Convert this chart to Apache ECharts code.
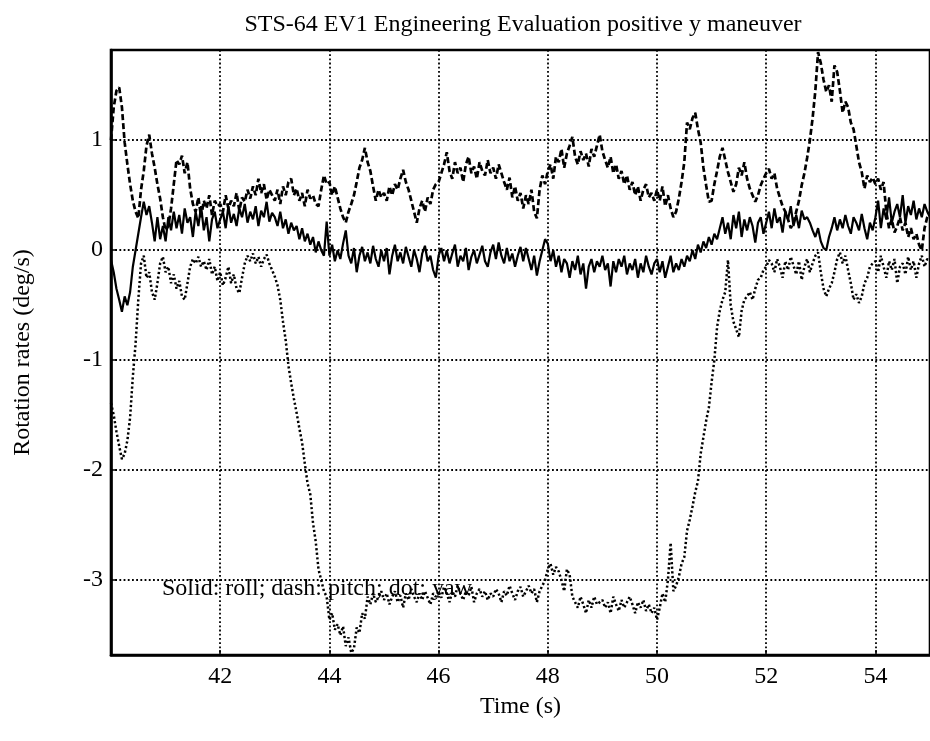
<!DOCTYPE html>
<html>
<head>
<meta charset="utf-8">
<title>STS-64 EV1 rotation rates</title>
<script src="https://cdn.jsdelivr.net/npm/echarts@6/dist/echarts.min.js"></script>
<style>
  html, body { margin: 0; padding: 0; background: #fff; }
  #chart { width: 930px; height: 741px; }
</style>
</head>
<body>
<div id="chart"></div>
<script>
// Sampling of the three body rates (s)
const startTime = 40;
const sampleStep = 0.05;

// Roll rate, deg/s (solid)
const roll = [
  -0.09, -0.2, -0.35, -0.45, -0.56, -0.42, -0.5, -0.38, -0.15, 0.0, 0.15, 0.3, 0.44, 0.32, 0.4, 0.25, 0.08, 0.3, 0.1, 0.22,
  0.08, 0.3, 0.18, 0.35, 0.2, 0.32, 0.15, 0.38, 0.25, 0.3, 0.12, 0.35, 0.22, 0.4, 0.18, 0.3, 0.08, 0.28, 0.35, 0.2,
  0.28, 0.35, 0.2, 0.4, 0.25, 0.33, 0.22, 0.38, 0.3, 0.42, 0.25, 0.35, 0.28, 0.4, 0.22, 0.36, 0.3, 0.44, 0.26, 0.34,
  0.3, 0.22, 0.35, 0.2, 0.28, 0.15, 0.25, 0.18, 0.22, 0.1, 0.2, 0.08, 0.15, 0.05, 0.12, -0.02, 0.08, 0.0, -0.05, 0.26,
  -0.05, 0.05, -0.1, 0.0, -0.08, 0.06, 0.18, -0.05, -0.12, 0.02, -0.2, -0.05, 0.03, -0.1, -0.02, -0.12, 0.04, -0.08, -0.15, 0.0,
  -0.1, 0.02, -0.22, -0.05, 0.05, -0.1, -0.02, -0.12, 0.03, -0.06, -0.15, 0.0, -0.08, -0.2, -0.03, 0.04, -0.1, -0.05, -0.18, -0.25,
  -0.05, 0.02, -0.1, 0.0, -0.12, -0.03, 0.05, -0.15, -0.05, -0.1, 0.02, -0.18, -0.06, 0.0, -0.12, -0.04, 0.04, -0.1, -0.15, -0.02,
  0.05, -0.08, 0.07, -0.05, -0.12, 0.02, -0.1, -0.03, -0.15, -0.05, 0.03, -0.1, 0.02, -0.08, -0.18, -0.05, -0.23, -0.1, 0.0, 0.1,
  0.06, -0.1, 0.0, -0.15, -0.05, -0.2, -0.08, -0.12, -0.25, -0.1, -0.18, -0.05, -0.22, -0.12, -0.35, -0.15, -0.08, -0.2, -0.1, -0.15,
  -0.05, -0.18, -0.12, -0.33, -0.1, -0.2, -0.08, -0.15, -0.05, -0.22, -0.12, -0.18, -0.08, -0.25, -0.12, -0.2, -0.05, -0.15, -0.22, -0.12,
  -0.08, -0.2, -0.1, -0.25, -0.15, -0.05, -0.2, -0.12, -0.18, -0.08, -0.15, -0.05, -0.1, 0.0, -0.08, 0.05, -0.02, 0.08, 0.02, 0.12,
  0.05, 0.15, 0.1, 0.2, 0.3, 0.15, 0.25, 0.1, 0.32, 0.2, 0.35, 0.12, 0.28, 0.18, 0.3, 0.22, 0.07, 0.25, 0.3, 0.15,
  0.25, 0.35, 0.2, 0.38, 0.25, 0.3, 0.16, 0.35, 0.28, 0.4, 0.22, 0.32, 0.2, 0.36, 0.28, 0.3, 0.25, 0.18, 0.12, 0.2,
  0.08, 0.02, 0.0, 0.12, 0.2, 0.3, 0.18, 0.28, 0.2, 0.32, 0.22, 0.15, 0.3, 0.25, 0.18, 0.33, 0.2, 0.1, 0.25, 0.18,
  0.3, 0.45, 0.2, 0.38, 0.28, 0.48, 0.25, 0.35, 0.42, 0.3, 0.5, 0.25, 0.4, 0.32, 0.45, 0.28, 0.38, 0.3, 0.42, 0.35,
  0.3
];

// Pitch rate, deg/s (dashed)
const pitch = [
  1.0, 1.3, 1.45, 1.48, 1.3, 0.98, 0.78, 0.6, 0.45, 0.35, 0.29, 0.55, 0.72, 0.95, 1.05, 0.88, 0.75, 0.6, 0.47, 0.3,
  0.18, 0.22, 0.38, 0.6, 0.82, 0.78, 0.86, 0.7, 0.8, 0.56, 0.42, 0.35, 0.48, 0.3, 0.45, 0.38, 0.5, 0.32, 0.45, 0.4,
  0.42, 0.35, 0.5, 0.38, 0.45, 0.4, 0.52, 0.36, 0.48, 0.44, 0.55, 0.47, 0.58, 0.5, 0.65, 0.52, 0.6, 0.46, 0.55, 0.5,
  0.45, 0.55, 0.42, 0.58, 0.5, 0.62, 0.65, 0.5, 0.56, 0.45, 0.52, 0.4, 0.55, 0.47, 0.5, 0.42, 0.4, 0.55, 0.68, 0.6,
  0.62, 0.5, 0.58, 0.48, 0.38, 0.3, 0.25, 0.35, 0.42, 0.5, 0.62, 0.75, 0.82, 0.93, 0.8, 0.72, 0.58, 0.45, 0.55, 0.48,
  0.52, 0.45, 0.58, 0.5, 0.6, 0.55, 0.65, 0.73, 0.62, 0.55, 0.45, 0.35, 0.25, 0.38, 0.45, 0.35, 0.48, 0.42, 0.55, 0.6,
  0.62, 0.7, 0.78, 0.89, 0.72, 0.65, 0.8, 0.7, 0.75, 0.62, 0.78, 0.85, 0.7, 0.76, 0.65, 0.8, 0.72, 0.68, 0.82, 0.7,
  0.75, 0.65, 0.78, 0.7, 0.62, 0.55, 0.66, 0.48, 0.58, 0.45, 0.52, 0.38, 0.5, 0.42, 0.55, 0.35, 0.29, 0.55, 0.68, 0.6,
  0.72, 0.78, 0.65, 0.85, 0.8, 0.92, 0.75, 0.88, 0.95, 1.03, 0.85, 0.78, 0.9, 0.82, 0.88, 0.76, 0.92, 0.85, 0.95, 1.05,
  0.9, 0.82, 0.75, 0.85, 0.7, 0.78, 0.65, 0.72, 0.6, 0.68, 0.55, 0.62, 0.5, 0.58, 0.45, 0.55, 0.6, 0.48, 0.52, 0.45,
  0.55, 0.45, 0.58, 0.4, 0.5, 0.38, 0.3, 0.35, 0.47, 0.62, 0.8, 1.16, 1.1, 1.2, 1.25, 1.1, 0.98, 0.75, 0.59, 0.44,
  0.45, 0.6, 0.72, 0.85, 0.93, 0.82, 0.71, 0.62, 0.53, 0.6, 0.75, 0.68, 0.8, 0.65, 0.56, 0.5, 0.44, 0.5, 0.59, 0.65,
  0.7, 0.74, 0.65, 0.7, 0.56, 0.48, 0.4, 0.35, 0.28, 0.2, 0.25, 0.35, 0.45, 0.59, 0.7, 0.84, 1.0, 1.2, 1.45, 1.8,
  1.7, 1.55, 1.44, 1.5, 1.35, 1.68, 1.62, 1.45, 1.25, 1.35, 1.3, 1.16, 1.1, 0.95, 0.8, 0.71, 0.56, 0.68, 0.62, 0.66,
  0.6, 0.65, 0.55, 0.62, 0.35, 0.2, 0.28, 0.16, 0.22, 0.3, 0.18, 0.25, 0.12, 0.2, 0.1, 0.15, 0.05, 0.0, 0.2, 0.3,
  0.35
];

// Yaw rate, deg/s (dotted)
const yaw = [
  -1.39, -1.5, -1.65, -1.78, -1.9, -1.85, -1.73, -1.52, -1.15, -0.85, -0.45, -0.12, -0.05, -0.25, -0.2, -0.38, -0.45, -0.3, -0.12, -0.06,
  -0.2, -0.15, -0.3, -0.22, -0.35, -0.28, -0.42, -0.45, -0.3, -0.15, -0.08, -0.12, -0.06, -0.15, -0.1, -0.18, -0.08, -0.22, -0.15, -0.28,
  -0.2, -0.32, -0.25, -0.15, -0.3, -0.22, -0.35, -0.39, -0.25, -0.12, -0.05, -0.1, -0.03, -0.12, -0.06, -0.15, -0.08, -0.04, -0.12, -0.18,
  -0.24, -0.32, -0.45, -0.65, -0.82, -1.05, -1.21, -1.35, -1.48, -1.62, -1.75, -1.94, -2.12, -2.22, -2.48, -2.65, -2.9, -3.0, -3.1, -3.15,
  -3.36, -3.3, -3.45, -3.4, -3.5, -3.42, -3.6, -3.52, -3.66, -3.62, -3.43, -3.48, -3.3, -3.35, -3.15, -3.22, -3.12, -3.2, -3.15, -3.1,
  -3.18, -3.12, -3.22, -3.15, -3.1, -3.2, -3.14, -3.25, -3.12, -3.18, -3.08, -3.15, -3.2, -3.12, -3.18, -3.1, -3.16, -3.22, -3.12, -3.15,
  -3.1, -3.16, -3.06, -3.12, -3.2, -3.1, -3.15, -3.05, -3.12, -3.18, -3.1, -3.14, -3.06, -3.2, -3.12, -3.08, -3.15, -3.1, -3.18, -3.12,
  -3.15, -3.08, -3.12, -3.2, -3.1, -3.14, -3.05, -3.12, -3.18, -3.1, -3.06, -3.15, -3.1, -3.05, -3.12, -3.08, -3.2, -3.1, -3.05, -3.0,
  -2.9, -2.85, -2.95, -2.88, -2.92, -3.0, -3.1, -2.9, -2.95, -3.15, -3.2, -3.25, -3.15, -3.22, -3.3, -3.18, -3.25, -3.15, -3.22, -3.2,
  -3.18, -3.25, -3.2, -3.3, -3.15, -3.22, -3.28, -3.18, -3.25, -3.2, -3.15, -3.22, -3.3, -3.2, -3.25, -3.18, -3.28, -3.22, -3.3, -3.25,
  -3.36, -3.25, -3.12, -3.2, -3.0, -2.66, -3.1, -3.05, -2.97, -2.85, -2.79, -2.55, -2.45, -2.33, -2.2, -2.1, -1.85, -1.7, -1.55, -1.43,
  -1.2, -1.0, -0.7, -0.55, -0.45, -0.38, -0.09, -0.5, -0.65, -0.72, -0.79, -0.55, -0.45, -0.42, -0.38, -0.45, -0.35, -0.27, -0.25, -0.18,
  -0.15, -0.09, -0.12, -0.2, -0.08, -0.15, -0.25, -0.1, -0.18, -0.06, -0.14, -0.22, -0.1, -0.27, -0.15, -0.08, -0.2, -0.12, -0.05, -0.02,
  -0.2, -0.35, -0.42, -0.35, -0.3, -0.2, -0.08, -0.02, -0.12, -0.05, -0.18, -0.3, -0.45, -0.4, -0.48, -0.42, -0.3, -0.25, -0.15, -0.12,
  -0.1, -0.2, -0.05, -0.15, -0.25, -0.1, -0.18, -0.08, -0.3, -0.15, -0.12, -0.22, -0.06, -0.18, -0.1, -0.25, -0.12, -0.05, -0.15, -0.08,
  -0.1
];

// Axis extents and tick spacing
const timeRange = [40, 55];
const timeTickStep = 2;
const rateRange = [-3.68, 1.82];

const titleText = 'STS-64 EV1 Engineering Evaluation positive y maneuver';
const noteText = 'Solid: roll; dash: pitch; dot: yaw';

const serif = '"Liberation Serif", "Times New Roman", serif';
const ink = '#000';
const fontSize = 24;

const withTime = values => values.map((v, i) => [+(startTime + i * sampleStep).toFixed(2), v]);

const gridLine = { show: true, lineStyle: { color: ink, width: 1.8, type: [1.8, 2.4] } };

const chart = echarts.init(document.getElementById('chart'), null, { renderer: 'canvas' });

chart.setOption({
  animation: false,
  backgroundColor: '#fff',
  grid: {
    left: 111, right: -2, top: 50, bottom: 86,
    show: true, borderColor: ink, borderWidth: 2.6, backgroundColor: 'transparent'
  },
  graphic: [
    {
      type: 'text', x: 523, y: 25,
      style: { text: titleText, font: fontSize + 'px ' + serif, fill: ink, textAlign: 'center', textVerticalAlign: 'middle', verticalAlign: 'middle' }
    },
    {
      type: 'text', x: 162, y: 589, z: 10,
      style: { text: noteText, font: fontSize + 'px ' + serif, fill: ink, textAlign: 'left', textVerticalAlign: 'middle', verticalAlign: 'middle' }
    }
  ],
  xAxis: {
    type: 'value',
    min: timeRange[0], max: timeRange[1], interval: timeTickStep,
    name: 'Time (s)', nameLocation: 'middle', nameGap: 40,
    nameTextStyle: { fontFamily: serif, fontSize: fontSize, color: ink },
    axisLine: { show: true, onZero: false, lineStyle: { color: ink, width: 2.6 } },
    axisTick: { show: true, inside: true, length: 5, lineStyle: { color: ink, width: 1.5 } },
    axisLabel: { fontFamily: serif, fontSize: fontSize, color: ink, margin: 10, showMinLabel: false, showMaxLabel: false },
    splitLine: gridLine
  },
  yAxis: {
    type: 'value',
    min: rateRange[0], max: rateRange[1], splitNumber: 5,
    name: 'Rotation rates (deg/s)', nameLocation: 'middle', nameGap: 76, nameRotate: 90,
    nameTextStyle: { fontFamily: serif, fontSize: fontSize, color: ink },
    axisLine: { show: true, onZero: false, lineStyle: { color: ink, width: 2.6 } },
    axisTick: { show: true, inside: true, length: 5, lineStyle: { color: ink, width: 1.5 } },
    axisLabel: { fontFamily: serif, fontSize: fontSize, color: ink, margin: 8, showMinLabel: false, showMaxLabel: false },
    splitLine: gridLine
  },
  series: [
    {
      name: 'yaw', type: 'line', data: withTime(yaw), showSymbol: false, z: 3,
      lineStyle: { color: ink, width: 2.5, type: [2.2, 2.4], cap: 'butt' }
    },
    {
      name: 'pitch', type: 'line', data: withTime(pitch), showSymbol: false, z: 4,
      lineStyle: { color: ink, width: 2.7, type: [6, 3], cap: 'butt' }
    },
    {
      name: 'roll', type: 'line', data: withTime(roll), showSymbol: false, z: 5,
      lineStyle: { color: ink, width: 2.2 }
    }
  ]
});
</script>
</body>
</html>
